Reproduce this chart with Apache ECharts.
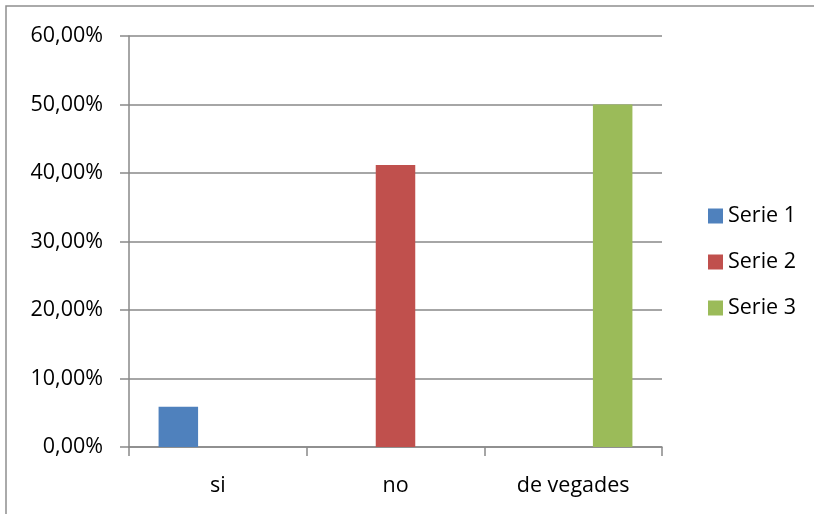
<!DOCTYPE html>
<html>
<head>
<meta charset="utf-8">
<script src="https://cdn.jsdelivr.net/npm/echarts@6/dist/echarts.min.js"></script>
<style>
  html, body { margin: 0; padding: 0; background: #fff; }
  #chart { width: 814px; height: 514px; }
</style>
</head>
<body>
<div id="chart"></div>
<script>
// categories and values (fractions)
const categories = ['si', 'no', 'de vegades']
const serie1 = [0.0588, null, null]
const serie2 = [null, 0.4118, null]
const serie3 = [null, null, 0.50]
const seriesNames = ['Serie 1', 'Serie 2', 'Serie 3']
const colors = ['#4f81bd', '#c0504d', '#9bbb59']

const fontFamily = 'Open Sans'
const fontSize = 21.5
const gray = '#898989'

function pct(v) {
  return (v * 100).toFixed(2).replace('.', ',') + '%'
}

const chart = echarts.init(document.getElementById('chart'))
chart.setOption({
  animation: false,
  color: colors,
  textStyle: { fontFamily: fontFamily },
  graphic: [{
    type: 'rect',
    shape: { x: 6, y: 6, width: 900, height: 600 },
    style: { fill: 'none', stroke: '#8e8e8e', lineWidth: 1.5 },
    silent: true
  }],
  grid: {
    left: 129,
    right: 152,
    top: 36,
    bottom: 67
  },
  legend: {
    orient: 'vertical',
    left: 703,
    top: 200,
    itemWidth: 15,
    itemHeight: 15,
    itemGap: 24,
    icon: 'rect',
    textStyle: { fontSize: fontSize, color: '#000', fontFamily: fontFamily },
    data: seriesNames
  },
  xAxis: {
    type: 'category',
    data: categories,
    axisLine: { lineStyle: { color: gray, width: 1.5 } },
    axisTick: { show: true, length: 9, lineStyle: { color: gray, width: 1.5 } },
    axisLabel: { fontSize: fontSize, color: '#000', margin: 28 }
  },
  yAxis: {
    type: 'value',
    min: 0,
    max: 0.6,
    interval: 0.1,
    axisLine: { show: true, lineStyle: { color: gray, width: 1.5 } },
    axisTick: { show: true, length: 9, lineStyle: { color: gray, width: 1.5 } },
    splitLine: { lineStyle: { color: gray, width: 1.5 } },
    axisLabel: { fontSize: fontSize, color: '#000', margin: 26, formatter: pct }
  },
  series: [
    { name: seriesNames[0], type: 'bar', data: serie1, barGap: '0%', barCategoryGap: '33.3%' },
    { name: seriesNames[1], type: 'bar', data: serie2, barGap: '0%', barCategoryGap: '33.3%' },
    { name: seriesNames[2], type: 'bar', data: serie3, barGap: '0%', barCategoryGap: '33.3%' }
  ]
})
</script>
</body>
</html>
